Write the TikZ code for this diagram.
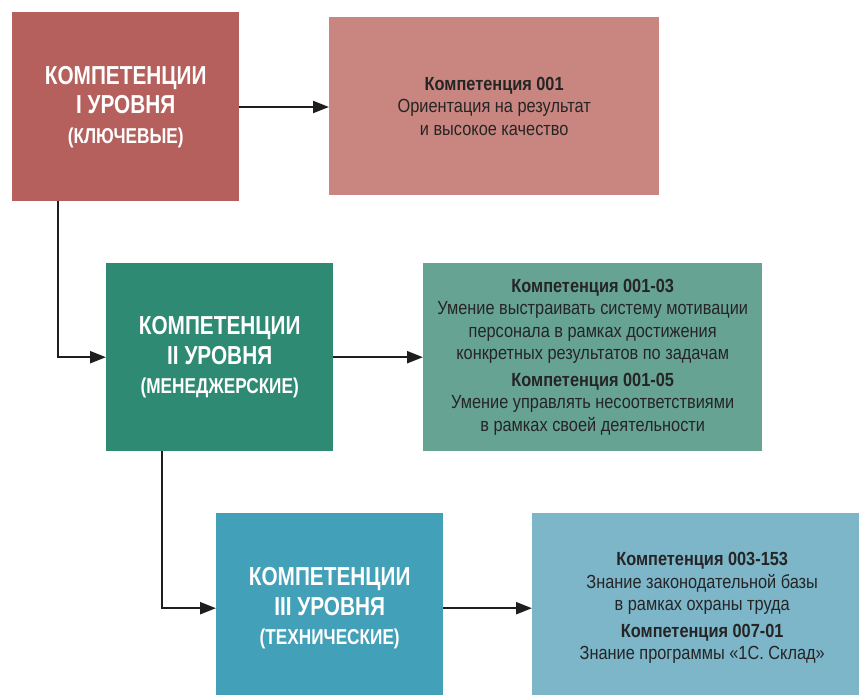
\documentclass[tikz,border=0pt]{standalone}
\usepackage{fontspec}
\setmainfont[FakeStretch=0.8]{Liberation Sans}
\newfontfamily\bodyfont[FakeStretch=0.86]{Liberation Sans}
\usetikzlibrary{arrows.meta}
\definecolor{redA}{HTML}{B5605C}
\definecolor{redB}{HTML}{C98680}
\definecolor{grnA}{HTML}{2E8A72}
\definecolor{grnB}{HTML}{67A392}
\definecolor{bluA}{HTML}{42A0B8}
\definecolor{bluB}{HTML}{7DB5C9}
\definecolor{txt}{HTML}{252525}
\definecolor{ln}{HTML}{1E1E1E}
\tikzset{
  box/.style={draw=none, rectangle, inner sep=0pt, anchor=north west, align=center},
  lvl/.style={box, text=white, font=\bfseries\fontsize{26}{29.5}\selectfont},
  desc/.style={box, text=txt, font=\bodyfont\fontsize{19}{22.5}\selectfont},
  arr/.style={draw=ln, line width=2.2pt, -{Triangle[length=16pt,width=12pt]}},
}
\newcommand{\subl}[1]{{\fontsize{21.5}{31}\selectfont #1}}
\begin{document}
\begin{tikzpicture}[x=1pt,y=1pt]
\useasboundingbox (0,0) rectangle (859,-695);
% level boxes
\node[lvl, fill=redA, minimum width=227pt, minimum height=189pt] (a1) at (12,-12)
  {КОМПЕТЕНЦИИ\\I УРОВНЯ\\\subl{(КЛЮЧЕВЫЕ)}};
\node[lvl, fill=grnA, minimum width=227pt, minimum height=188pt] (a2) at (106,-263)
  {КОМПЕТЕНЦИИ\\II УРОВНЯ\\\subl{(МЕНЕДЖЕРСКИЕ)}};
\node[lvl, fill=bluA, minimum width=227pt, minimum height=190pt] (a3) at (216,-513)
  {КОМПЕТЕНЦИИ\\III УРОВНЯ\\\subl{(ТЕХНИЧЕСКИЕ)}};
% description boxes
\node[desc, fill=redB, minimum width=330pt, minimum height=178pt] (b1) at (329,-17)
  {\textbf{Компетенция 001}\\Ориентация на результат\\и высокое качество};
\node[desc, fill=grnB, minimum width=339pt, minimum height=188pt] (b2) at (423,-263)
  {\textbf{Компетенция 001-03}\\Умение выстраивать систему мотивации\\персонала в рамках достижения\\конкретных результатов по задачам\\[4pt]\textbf{Компетенция 001-05}\\Умение управлять несоответствиями\\в рамках своей деятельности};
\node[desc, fill=bluB, minimum width=340pt, minimum height=190pt] (b3) at (532,-513)
  {\textbf{Компетенция 003-153}\\Знание законодательной базы\\в рамках охраны труда\\[4pt]\textbf{Компетенция 007-01}\\Знание программы «1С. Склад»};
% connectors
\draw[arr] (a1.east |- 0,-107) -- (b1.west |- 0,-107);
\draw[arr] (a2.east) -- (b2.west);
\draw[arr] (a3.east) -- (b3.west);
\draw[arr] ([xshift=46pt]a1.south west) |- (a2.west);
\draw[arr] ([xshift=56pt]a2.south west) |- (a3.west);
\end{tikzpicture}
\end{document}
